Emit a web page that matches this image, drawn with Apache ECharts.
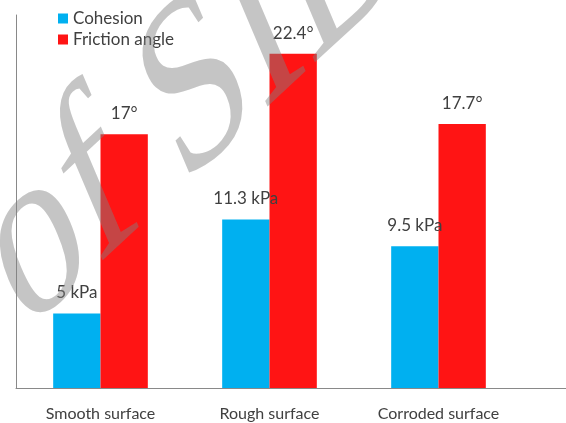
<!DOCTYPE html>
<html>
<head>
<meta charset="utf-8">
<script src="https://cdn.jsdelivr.net/npm/echarts@6/dist/echarts.min.js"></script>
<style>html,body{margin:0;padding:0;background:#fff}#c{width:566px;height:423px}</style>
</head>
<body>
<div id="c"></div>
<script>
var categories = ['Smooth surface', 'Rough surface', 'Corroded surface'];
var cohesion = [5, 11.3, 9.5];
var friction = [17, 22.4, 17.7];
var cohesionLabels = ['5 kPa', '11.3 kPa', '9.5 kPa'];
var frictionLabels = ['17°', '22.4°', '17.7°'];

var chart = echarts.init(document.getElementById('c'), null, {renderer: 'canvas'});
var font = 'Lato';
var labelStyle = {show: true, position: 'top', distance: 12, color: '#404040', fontSize: 17, fontFamily: font};
chart.setOption({
  animation: false,
  legend: {
    orient: 'vertical', left: 58, top: 10, padding: 0, itemWidth: 10, itemHeight: 10, itemGap: 4,
    icon: 'rect',
    textStyle: {color: '#404040', fontSize: 17, fontFamily: font},
    itemStyle: {borderWidth: 0},
    data: ['Cohesion', 'Friction angle']
  },
  grid: {left: 16, top: 15, right: 43, bottom: 35, containLabel: false},
  xAxis: {
    type: 'category', data: categories,
    axisLine: {show: true, lineStyle: {color: '#898989', width: 1}},
    axisTick: {show: false},
    axisLabel: {color: '#404040', fontSize: 16, fontFamily: font, margin: 18}
  },
  yAxis: {
    type: 'value', min: 0, max: 25,
    axisLine: {show: true, lineStyle: {color: '#898989', width: 1}},
    axisTick: {show: false}, axisLabel: {show: false}, splitLine: {show: false}
  },
  series: [
    {name: 'Cohesion', type: 'bar', data: cohesion, barGap: '0%', barCategoryGap: '44%',
     itemStyle: {color: '#00B0F0'},
     label: Object.assign({}, labelStyle, {formatter: function(p){return cohesionLabels[p.dataIndex];}})},
    {name: 'Friction angle', type: 'bar', data: friction, barGap: '0%', barCategoryGap: '44%',
     itemStyle: {color: '#FF1414'},
     label: Object.assign({}, labelStyle, {formatter: function(p){return frictionLabels[p.dataIndex];}})}
  ],
  graphic: [
    {type: 'line', shape: {x1: 523, y1: 388.5, x2: 566, y2: 388.5}, style: {stroke: '#898989', lineWidth: 1}, z: 10}
  ]
});

// watermark: skewed serif text drawn with the library's own graphic element
var wmText = new echarts.graphic.Text({
  x: 45, y: 384, scaleX: 0.728, scaleY: 1.058, skewX: 0.4013, skewY: 0.7500, z: 100, silent: true,
  style: {text: 'of SID', font: '200px "Liberation Serif"', fill: 'rgba(128,128,128,0.46)', align: 'left', verticalAlign: 'bottom'}
});
chart.getZr().add(wmText);
</script>
</body>
</html>
